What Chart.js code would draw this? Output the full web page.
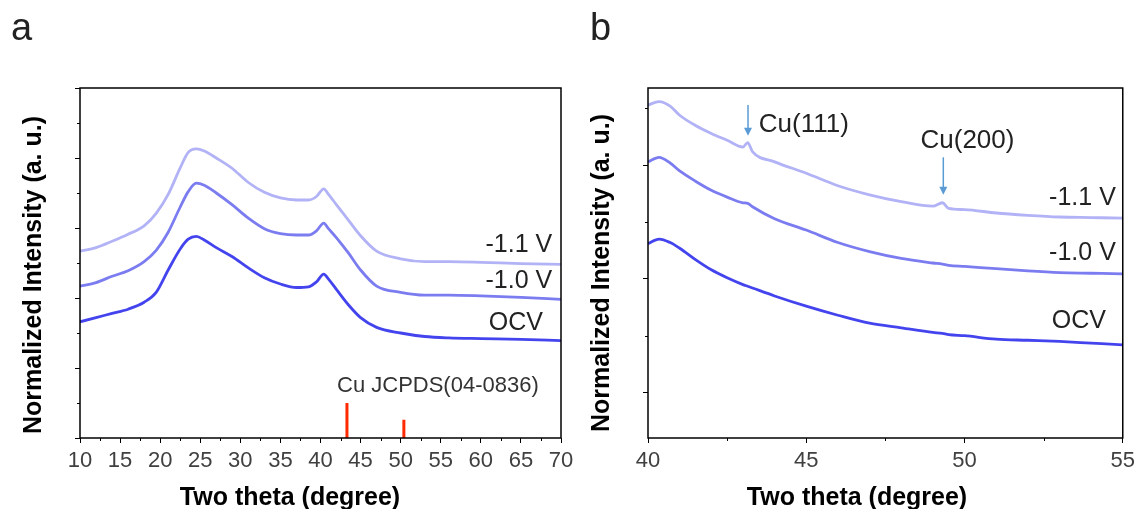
<!DOCTYPE html>
<html>
<head>
<meta charset="utf-8">
<script src="https://cdn.jsdelivr.net/npm/chart.js@4.4.0/dist/chart.umd.min.js"></script>
<style>
  body { margin: 0; background: #fff; }
  #wrap { position: relative; width: 1140px; height: 509px; }
  canvas { position: absolute; top: 0; }
  #chartA { left: 0; }
  #chartB { left: 580px; }
</style>
</head>
<body>
<div id="wrap">
  <canvas id="chartA" width="580" height="509"></canvas>
  <canvas id="chartB" width="560" height="509"></canvas>
</div>
<script>
// ---- panel a : wide scan ----
const thetaA = [10, 12, 14, 16, 18, 19.5, 21, 22.5, 23.5, 24.5, 25.5, 27, 29, 31, 33, 35, 37, 38.5, 39.5, 40.4, 41, 42, 43.5, 45, 47, 50, 53, 56, 60, 65, 70];
const ocvA  = [1.66, 1.72, 1.78, 1.84, 1.94, 2.08, 2.40, 2.70, 2.84, 2.88, 2.83, 2.72, 2.59, 2.43, 2.29, 2.20, 2.15, 2.16, 2.23, 2.34, 2.27, 2.12, 1.90, 1.72, 1.58, 1.50, 1.45, 1.43, 1.42, 1.41, 1.39];
const v10A  = [2.17, 2.22, 2.31, 2.39, 2.52, 2.68, 2.94, 3.30, 3.52, 3.64, 3.61, 3.50, 3.33, 3.14, 2.99, 2.92, 2.90, 2.90, 2.96, 3.07, 2.99, 2.86, 2.64, 2.40, 2.17, 2.08, 2.04, 2.04, 2.03, 2.01, 1.98];
const v11A  = [2.67, 2.72, 2.81, 2.91, 3.03, 3.21, 3.48, 3.86, 4.08, 4.13, 4.10, 4.00, 3.85, 3.65, 3.51, 3.43, 3.40, 3.40, 3.45, 3.56, 3.48, 3.33, 3.11, 2.89, 2.67, 2.56, 2.52, 2.52, 2.51, 2.49, 2.48];
const cuPeaks   = [43.3, 50.4];
const cuHeights = [0.5, 0.26];
const xTicksA = [10, 15, 20, 25, 30, 35, 40, 45, 50, 55, 60, 65, 70];
const xMinorA = [12.5, 17.5, 22.5, 27.5, 32.5, 37.5, 42.5, 47.5, 52.5, 57.5, 62.5, 67.5];
const yTicksA = [0, 1, 2, 3, 4, 5];
const yMinorA = [0.5, 1.5, 2.5, 3.5, 4.5];

// ---- panel b : zoom 40-55 ----
const thetaB = [40, 40.35, 40.7, 41, 41.5, 42, 42.5, 43, 43.15, 43.3, 44, 45, 46, 47, 48, 49, 49.3, 49.5, 50, 51, 52, 53, 54, 55];
const v11B = [2.53, 2.56, 2.52, 2.44, 2.35, 2.28, 2.22, 2.16, 2.20, 2.12, 2.03, 1.93, 1.82, 1.74, 1.68, 1.64, 1.67, 1.62, 1.61, 1.58, 1.56, 1.545, 1.54, 1.535];
const v10B = [2.03, 2.07, 2.02, 1.95, 1.86, 1.78, 1.72, 1.67, 1.665, 1.635, 1.53, 1.43, 1.32, 1.24, 1.18, 1.14, 1.13, 1.12, 1.11, 1.09, 1.07, 1.055, 1.05, 1.045];
const ocvB = [1.31, 1.35, 1.32, 1.27, 1.17, 1.08, 1.01, 0.95, 0.935, 0.92, 0.85, 0.76, 0.68, 0.61, 0.57, 0.53, 0.52, 0.51, 0.50, 0.47, 0.46, 0.45, 0.435, 0.42];
const xTicksB = [40, 45, 50, 55];
const xMinorB = [42.5, 47.5, 52.5];
const yTicksB = [0, 1, 2];
const yMinorB = [0.5, 1.5, 2.5];

const seriesNames = ['OCV', '-1.0 V', '-1.1 V'];
const colors = ['#4444ee', '#7c7cf1', '#b2b2f6'];
const arrowColor = '#5b9bd5';
const FONT = '"Liberation Sans", Arial, sans-serif';

Chart.defaults.font.family = FONT;

const pts = (xs, ys) => xs.map((x, i) => ({ x: x, y: ys[i] }));

const decor = {
  id: 'decor',
  afterDraw(chart, args, o) {
    const { ctx, chartArea: a, scales: { x, y } } = chart;
    ctx.save();
    ctx.strokeStyle = '#000';
    ctx.lineWidth = 1.5;
    ctx.strokeRect(a.left, a.top, a.right - a.left, a.bottom - a.top);
    // minor ticks
    ctx.lineWidth = 1;
    ctx.beginPath();
    o.xMinor.forEach(v => {
      const p = Math.round(x.getPixelForValue(v)) + 0.5;
      ctx.moveTo(p, a.bottom); ctx.lineTo(p, a.bottom + 3);
    });
    o.yMinor.forEach(v => {
      const p = Math.round(y.getPixelForValue(v)) + 0.5;
      ctx.moveTo(a.left, p); ctx.lineTo(a.left - 3, p);
    });
    ctx.stroke();
    // arrows
    (o.arrows || []).forEach(ar => {
      const px = x.getPixelForValue(ar.x);
      const y1 = y.getPixelForValue(ar.from);
      const y2 = y.getPixelForValue(ar.to);
      ctx.strokeStyle = arrowColor; ctx.fillStyle = arrowColor;
      ctx.lineWidth = 1.5;
      ctx.beginPath(); ctx.moveTo(px, y1); ctx.lineTo(px, y2 - 6); ctx.stroke();
      ctx.beginPath(); ctx.moveTo(px - 4, y2 - 8); ctx.lineTo(px + 4, y2 - 8); ctx.lineTo(px, y2); ctx.closePath(); ctx.fill();
    });
    // texts
    o.texts.forEach(t => {
      const px = t.data ? x.getPixelForValue(t.x) : t.x;
      const py = t.data ? y.getPixelForValue(t.y) : t.y;
      ctx.save();
      ctx.translate(px, py);
      if (t.rot) ctx.rotate(t.rot);
      ctx.font = t.font;
      ctx.fillStyle = t.color || '#222';
      ctx.textAlign = t.align || 'left';
      ctx.textBaseline = t.base || 'alphabetic';
      ctx.fillText(t.text, 0, 0);
      ctx.restore();
    });
    ctx.restore();
  }
};

function axis(min, max, ticks, size, horiz, showLabels) {
  return {
    type: 'linear', min: min, max: max,
    afterBuildTicks: s => { s.ticks = ticks.map(v => ({ value: v })); },
    afterFit: s => { if (horiz) s.height = size; else s.width = size; },
    grid: { drawOnChartArea: false, drawTicks: true, tickLength: 5, tickColor: '#000', tickWidth: 1 },
    border: { display: false },
    ticks: { display: showLabels, color: '#404040', font: { size: 22 }, padding: 5, maxRotation: 0, autoSkip: false, callback: v => String(v) }
  };
}

function lineSet(label, data, color) {
  return { label: label, data: data, borderColor: color, borderWidth: 2.8, pointRadius: 0, cubicInterpolationMode: 'monotone', fill: false };
}

const bold = 'bold 25px ' + FONT;
const reg = '25px ' + FONT;

// reference stick pattern for Cu
const cuStick = cuPeaks.flatMap((p, i) => [{ x: p, y: 0 }, { x: p, y: cuHeights[i] }, { x: p, y: null }]);

new Chart(document.getElementById('chartA'), {
  type: 'line',
  data: {
    datasets: [
      lineSet(seriesNames[0], pts(thetaA, ocvA), colors[0]),
      lineSet(seriesNames[1], pts(thetaA, v10A), colors[1]),
      lineSet(seriesNames[2], pts(thetaA, v11A), colors[2]),
      { label: 'Cu JCPDS', data: cuStick, borderColor: '#ff2a00', borderWidth: 3, pointRadius: 0, spanGaps: false }
    ]
  },
  options: {
    responsive: false, animation: false,
    layout: { padding: { top: 88, right: 19, left: 0, bottom: 0 } },
    plugins: {
      legend: { display: false }, tooltip: { enabled: false },
      decor: {
        xMinor: xMinorA, yMinor: yMinorA,
        texts: [
          { text: 'a', x: 11, y: 40, font: '38px ' + FONT },
          { text: 'Two theta (degree)', x: 290, y: 505, align: 'center', font: bold, color: '#000' },
          { text: 'Normalized Intensity (a. u.)', x: 34, y: 275, align: 'center', base: 'middle', rot: -Math.PI / 2, font: bold, color: '#000' },
          { text: '-1.1 V', data: true, x: 68.9, y: 2.66, align: 'right', font: reg },
          { text: '-1.0 V', data: true, x: 68.9, y: 2.14, align: 'right', font: reg },
          { text: 'OCV', data: true, x: 67.75, y: 1.54, align: 'right', font: reg },
          { text: 'Cu JCPDS(04-0836)', data: true, x: 42.06, y: 0.66, font: '22px ' + FONT, color: '#333' }
        ]
      }
    },
    scales: {
      x: axis(10, 70, xTicksA, 71, true, true),
      y: axis(0, 5, yTicksA, 80, false, false)
    }
  },
  plugins: [decor]
});

new Chart(document.getElementById('chartB'), {
  type: 'line',
  data: {
    datasets: [
      lineSet(seriesNames[0], pts(thetaB, ocvB), colors[0]),
      lineSet(seriesNames[1], pts(thetaB, v10B), colors[1]),
      lineSet(seriesNames[2], pts(thetaB, v11B), colors[2])
    ]
  },
  options: {
    responsive: false, animation: false,
    layout: { padding: { top: 88, right: 13, left: 0, bottom: 0 } },
    plugins: {
      legend: { display: false }, tooltip: { enabled: false },
      decor: {
        xMinor: xMinorB, yMinor: yMinorB,
        arrows: [{ x: 43.16, from: 2.53, to: 2.26 }, { x: 49.33, from: 2.07, to: 1.74 }],
        texts: [
          { text: 'b', x: 10, y: 40, font: '38px ' + FONT },
          { text: 'Two theta (degree)', x: 277, y: 505, align: 'center', font: bold, color: '#000' },
          { text: 'Normalized Intensity (a. u.)', x: 22, y: 273, align: 'center', base: 'middle', rot: -Math.PI / 2, font: bold, color: '#000' },
          { text: 'Cu(111)', data: true, x: 43.5, y: 2.29, font: '26px ' + FONT },
          { text: 'Cu(200)', data: true, x: 48.61, y: 2.15, font: '26px ' + FONT },
          { text: '-1.1 V', data: true, x: 54.78, y: 1.65, align: 'right', font: reg },
          { text: '-1.0 V', data: true, x: 54.78, y: 1.17, align: 'right', font: reg },
          { text: 'OCV', data: true, x: 54.47, y: 0.57, align: 'right', font: reg }
        ]
      }
    },
    scales: {
      x: axis(40, 55, xTicksB, 71, true, true),
      y: axis(-0.4, 2.68, yTicksB, 68, false, false)
    }
  },
  plugins: [decor]
});
</script>
</body>
</html>
